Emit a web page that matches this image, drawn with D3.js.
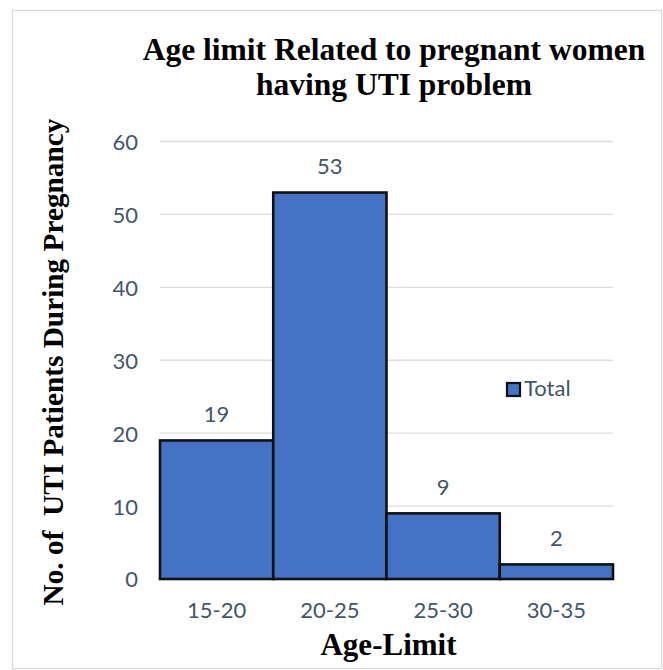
<!DOCTYPE html>
<html>
<head>
<meta charset="utf-8">
<script src="https://cdn.jsdelivr.net/npm/d3@7"></script>
<style>
  html, body { margin: 0; padding: 0; background: #ffffff; }
  svg { display: block; }
</style>
</head>
<body>
<svg id="chart" width="663" height="670"></svg>
<script>
// Age groups and number of pregnant women with UTI in each group
const categories = ["15-20", "20-25", "25-30", "30-35"];
const totals = [19, 53, 9, 2];
const yTicks = [0, 10, 20, 30, 40, 50, 60];
const seriesName = "Total";

const titleLines = ["Age limit Related to pregnant women", "having UTI problem"];
const xTitle = "Age-Limit";
const yTitle = "No. of\u00A0 UTI Patients During Pregnancy";

const svg = d3.select("#chart");
const W = 663, H = 670;

const plot = { left: 160, right: 613, top: 141.5, bottom: 579 };
const barFill = "#4472C4";
const textGray = "#44546A";
const sans = "Lato, 'Open Sans', sans-serif";
const serif = "'Liberation Serif', 'Times New Roman', serif";
const labelSize = 22;

// chart frame
svg.append("rect")
  .attr("x", 12.5).attr("y", 10.5)
  .attr("width", W - 14).attr("height", H - 12)
  .attr("fill", "#ffffff")
  .attr("stroke", "#D9D9D9")
  .attr("stroke-width", 1.2);

const x = d3.scaleBand().domain(categories).range([plot.left, plot.right]).padding(0);
const y = d3.scaleLinear().domain([0, 60]).range([plot.bottom, plot.top]);

// horizontal gridlines
svg.append("g")
  .selectAll("line")
  .data(yTicks)
  .join("line")
  .attr("x1", plot.left).attr("x2", plot.right)
  .attr("y1", d => y(d)).attr("y2", d => y(d))
  .attr("stroke", "#D9DEE5")
  .attr("stroke-width", 1.4);

// y axis tick labels
const yAxis = d3.axisLeft(y).tickValues(yTicks).tickSize(0).tickPadding(0);
const gy = svg.append("g").attr("transform", `translate(${138},0)`).call(yAxis);
gy.select(".domain").remove();
gy.selectAll("text")
  .attr("font-family", sans)
  .attr("font-size", labelSize)
  .attr("fill", textGray)
  .attr("dy", "0.36em");

// x axis tick labels
const xAxis = d3.axisBottom(x).tickSize(0).tickPadding(0);
const gx = svg.append("g").attr("transform", `translate(0,${plot.bottom})`).call(xAxis);
gx.select(".domain").remove();
gx.selectAll("text")
  .attr("font-family", sans)
  .attr("font-size", labelSize)
  .attr("fill", textGray)
  .attr("y", 38.5)
  .attr("dy", 0);

// bars
svg.append("g")
  .selectAll("rect")
  .data(totals)
  .join("rect")
  .attr("x", (d, i) => x(categories[i]))
  .attr("y", d => y(d))
  .attr("width", x.bandwidth())
  .attr("height", d => y(0) - y(d))
  .attr("fill", barFill)
  .attr("stroke", "#111111")
  .attr("stroke-width", 2.6);

// value labels
svg.append("g")
  .selectAll("text")
  .data(totals)
  .join("text")
  .attr("x", (d, i) => x(categories[i]) + x.bandwidth() / 2)
  .attr("y", d => y(d) - 18.5)
  .attr("text-anchor", "middle")
  .attr("font-family", sans)
  .attr("font-size", labelSize)
  .attr("fill", textGray)
  .text(d => d);

// title
svg.append("text")
  .attr("x", 394)
  .attr("y", 59.5)
  .attr("text-anchor", "middle")
  .attr("font-family", serif)
  .attr("font-weight", "bold")
  .attr("font-size", 31.5)
  .attr("fill", "#000000")
  .selectAll("tspan")
  .data(titleLines)
  .join("tspan")
  .attr("x", 394)
  .attr("dy", (d, i) => i === 0 ? 0 : 35)
  .text(d => d);

// axis titles
svg.append("text")
  .attr("x", 388.5)
  .attr("y", 655)
  .attr("text-anchor", "middle")
  .attr("font-family", serif)
  .attr("font-weight", "bold")
  .attr("font-size", 31)
  .attr("fill", "#000000")
  .text(xTitle);

svg.append("text")
  .attr("transform", "translate(63,362) rotate(-90)")
  .attr("text-anchor", "middle")
  .attr("font-family", serif)
  .attr("font-weight", "bold")
  .attr("font-size", 29.3)
  .attr("fill", "#000000")
  .text(yTitle);

// legend
const legend = svg.append("g").attr("transform", "translate(506,382)");
legend.append("rect")
  .attr("x", 1).attr("y", 1)
  .attr("width", 13).attr("height", 13)
  .attr("fill", barFill)
  .attr("stroke", "#111111")
  .attr("stroke-width", 2.2);
legend.append("text")
  .attr("x", 18)
  .attr("y", 14)
  .attr("font-family", sans)
  .attr("font-size", labelSize)
  .attr("fill", textGray)
  .text(seriesName);
</script>
</body>
</html>
